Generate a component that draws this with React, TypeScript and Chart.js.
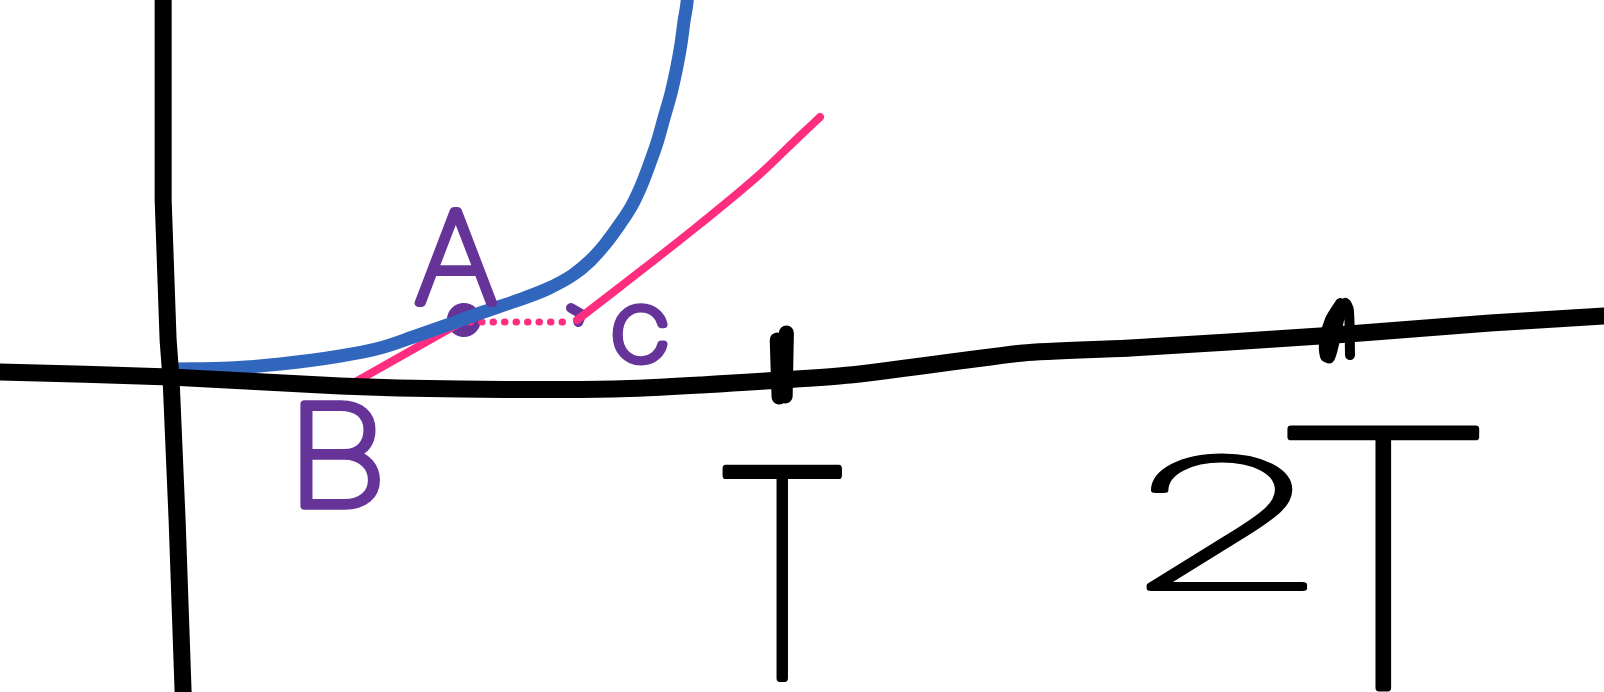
import React, { useEffect, useRef } from "react";
import { Chart, registerables } from "chart.js";

Chart.register(...registerables);

// Coordinate system: x in units of the period T (origin at the vertical axis), y in signal units.
const xAxisX = [-0.29, -0.278, 0.0, 0.278, 0.474, 0.725, 0.866, 1.111, 1.394, 1.569, 1.904, 2.157, 2.343, 2.36];
const xAxisY = [0.05, 0.05, 0.0, -0.09, -0.12, -0.12, -0.08, 0.02, 0.24, 0.29, 0.42, 0.54, 0.61, 0.62];

const yAxisX = [-0.0114, -0.0114, -0.0033, 0.0016, 0.0114, 0.0212, 0.0215];
const yAxisY = [3.87, 1.77, 0.37, -0.03, -1.43, -3.15, -3.23];

const blueX = [0.003, 0.098, 0.18, 0.278, 0.343, 0.397, 0.453, 0.507, 0.56, 0.616, 0.658, 0.686, 0.711, 0.735, 0.755, 0.771, 0.784, 0.796, 0.807, 0.819, 0.828, 0.835, 0.84, 0.845, 0.846];
const blueY = [0.08, 0.09, 0.13, 0.21, 0.29, 0.4, 0.52, 0.64, 0.75, 0.88, 1.02, 1.16, 1.33, 1.53, 1.72, 1.93, 2.14, 2.35, 2.59, 2.85, 3.1, 3.34, 3.57, 3.77, 3.87];

const pinkAX = [0.291, 0.479];
const pinkAY = [-0.09, 0.56];

const pinkDotX = [0.49, 0.657];
const pinkDotY = [0.55, 0.55];

const pinkBX = [0.665, 0.735, 0.866, 0.964, 1.029, 1.062];
const pinkBY = [0.57, 0.9, 1.53, 2.03, 2.41, 2.6];

const pointAX = [0.48];
const pointAY = [0.57];

const hookCX = [0.655, 0.672, 0.667];
const hookCY = [0.69, 0.63, 0.55];

const tick1aX = [0.992, 0.995];
const tick1aY = [0.37, -0.2];
const tick1bX = [1.007, 1.005];
const tick1bY = [0.44, -0.19];

const tick2X = [1.912, 1.895, 1.886, 1.887, 1.895, 1.904, 1.912, 1.92, 1.926, 1.928];
const tick2Y = [0.74, 0.57, 0.37, 0.21, 0.19, 0.39, 0.62, 0.74, 0.67, 0.22];

const labelTexts = ["A", "B", "C", "T", "2", "T"];
const labelX = [0.467, 0.278, 0.768, 1.0, 1.727, 1.982];
const labelY = [1.2, -0.78, 0.43, -1.96, -1.45, -1.81];

const PURPLE = "#663399";
const BLUE = "#3166bd";
const PINK = "#ff2d7f";
const BLACK = "#000000";

const labelStyles = [
  { color: PURPLE, w: 83, h: 100, stroke: 8 },
  { color: PURPLE, w: 80, h: 110, stroke: 8 },
  { color: PURPLE, w: 55, h: 63, stroke: 8 },
  { color: BLACK, w: 121, h: 217, stroke: 7 },
  { color: BLACK, w: 160, h: 140, stroke: 7 },
  { color: BLACK, w: 193, h: 267, stroke: 7 },
];

const zip = (xs: number[], ys: number[]) => xs.map((x, i) => ({ x, y: ys[i] }));

const labelPlugin = {
  id: "sketchLabels",
  afterDatasetsDraw(chart: any) {
    const { ctx, scales } = chart;
    labelTexts.forEach((text, i) => {
      const st = labelStyles[i];
      const cx = scales.x.getPixelForValue(labelX[i]);
      const cy = scales.y.getPixelForValue(labelY[i]);
      ctx.save();
      ctx.font = "100 200px Inter, 'DejaVu Sans', sans-serif";
      ctx.textAlign = "left";
      ctx.textBaseline = "alphabetic";
      const m = ctx.measureText(text);
      const tw = m.actualBoundingBoxLeft + m.actualBoundingBoxRight;
      const th = m.actualBoundingBoxAscent + m.actualBoundingBoxDescent;
      const inner = st.stroke;
      const sx = (st.w - inner) / tw;
      const sy = (st.h - inner) / th;
      ctx.translate(cx, cy);
      ctx.scale(sx, sy);
      ctx.fillStyle = st.color;
      ctx.strokeStyle = st.color;
      ctx.lineJoin = "round";
      ctx.lineCap = "round";
      ctx.lineWidth = st.stroke / Math.sqrt(sx * sy);
      const px = -tw / 2 + m.actualBoundingBoxLeft;
      const py = -th / 2 + m.actualBoundingBoxAscent;
      ctx.fillText(text, px, py);
      ctx.strokeText(text, px, py);
      ctx.restore();
    });
  },
};

export default function App() {
  const ref = useRef<HTMLCanvasElement | null>(null);
  useEffect(() => {
    document.body.style.margin = "0";
    const canvas = ref.current!;
    const line = (data: any, color: string, width: number, extra: any = {}) => ({
      data,
      borderColor: color,
      backgroundColor: color,
      borderWidth: width,
      pointRadius: 0,
      pointHoverRadius: 0,
      showLine: true,
      fill: false,
      clip: false,
      borderCapStyle: "round",
      borderJoinStyle: "round",
      ...extra,
    });
    const chart = new Chart(canvas, {
      type: "line",
      data: {
        datasets: [
          line(zip(xAxisX, xAxisY), BLACK, 17, { tension: 0.2 }),
          line(zip(yAxisX, yAxisY), BLACK, 17),
          line(zip(tick1aX, tick1aY), BLACK, 15),
          line(zip(tick1bX, tick1bY), BLACK, 15),
          line(zip(tick2X, tick2Y), BLACK, 10, { tension: 0.3 }),
          line(zip(blueX, blueY), BLUE, 13, { cubicInterpolationMode: "monotone" }),
          line(zip(pinkAX, pinkAY), PINK, 8),
          line(zip(pinkDotX, pinkDotY), PINK, 7, { borderDash: [0.5, 11] }),
          line(zip(pinkBX, pinkBY), PINK, 8, { cubicInterpolationMode: "monotone" }),
          line(zip(hookCX, hookCY), PURPLE, 10),
          {
            data: zip(pointAX, pointAY),
            backgroundColor: PURPLE,
            borderColor: PURPLE,
            pointBackgroundColor: PURPLE,
            borderWidth: 0,
            pointBorderWidth: 0,
            pointRadius: 17,
            showLine: false,
            clip: false,
          },
        ],
      },
      options: {
        animation: false,
        responsive: false,
        devicePixelRatio: 1,
        layout: { padding: 0, autoPadding: false },
        plugins: { legend: { display: false }, tooltip: { enabled: false } },
        scales: {
          x: { type: "linear", min: -0.278, max: 2.343, display: false },
          y: { type: "linear", min: -3.15, max: 3.77, display: false },
        },
      },
      plugins: [labelPlugin],
    } as any);
    return () => chart.destroy();
  }, []);
  return (
    <div style={{ position: "fixed", left: 0, top: 0, width: 1604, height: 692, background: "#fff" }}>
      <canvas ref={ref} width={1604} height={692} style={{ width: 1604, height: 692, display: "block" }} />
    </div>
  );
}
